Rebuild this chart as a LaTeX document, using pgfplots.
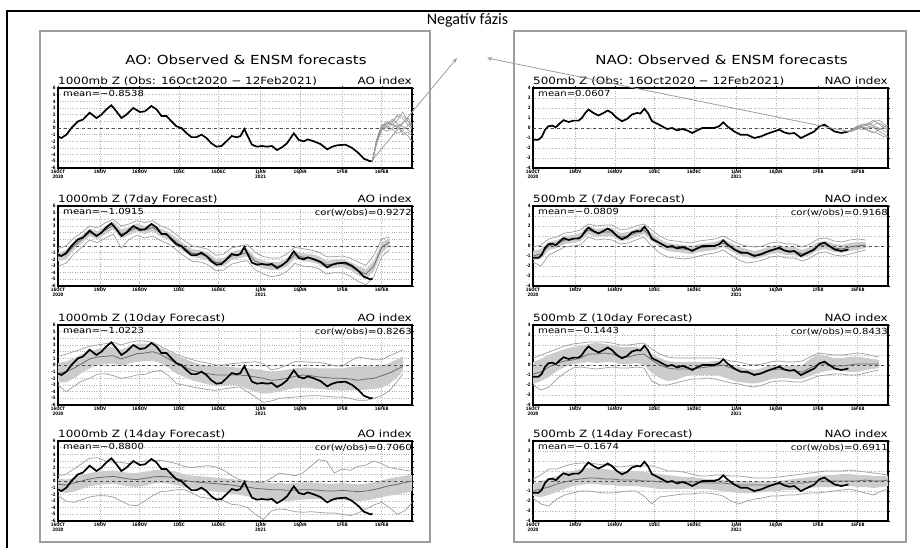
\documentclass[border=0pt]{standalone}
\usepackage{fontspec}
\setmainfont{DejaVu Sans}
\newfontfamily\gradsfont[FakeStretch=1.2]{DejaVu Sans}
\newfontfamily\tickfont[FakeStretch=0.85]{DejaVu Sans}
\newfontfamily\calibri{Carlito}
\usepackage{pgfplots}
\pgfplotsset{compat=1.18}
\usepackage{pgfplotstable}
\usetikzlibrary{arrows.meta}

\definecolor{bandgray}{gray}{0.80}
\definecolor{outergray}{gray}{0.62}
\definecolor{meangray}{gray}{0.42}
\definecolor{gridgray}{gray}{0.70}
\definecolor{framegray}{gray}{0.62}
\definecolor{arrowgray}{gray}{0.62}

\newcommand{\ticklab}{\tickfont\bfseries\fontsize{4.6}{5}\selectfont}
\newcommand{\subfont}{\gradsfont\fontsize{10}{10}\selectfont}
\newcommand{\titlefont}{\gradsfont\fontsize{12.5}{12.5}\selectfont}
\newcommand{\meanfont}{\gradsfont\fontsize{8.4}{8.4}\selectfont}

\pgfplotsset{
  grads/.style={
    scale only axis, width=354pt, height=80pt,
    xmin=0, xmax=134.5,
    axis line style={line width=1.4pt},
    xtick={0,16,31,46,61,77,92,108,123},
    xticklabels={{16OCT\\2020},1NOV,16NOV,1DEC,16DEC,{1JAN\\2021},16JAN,1FEB,16FEB},
    xticklabel style={align=center, font=\ticklab, inner sep=0.8pt},
    yticklabel style={font=\ticklab, inner sep=0.6pt},
    /pgf/number format/assume math mode=true,
    tick align=outside, major tick length=1.5pt, tick style={black, line width=0.4pt},
    xmajorgrids, ymajorgrids,
    major grid style={gridgray, dotted, line width=0.5pt},
    clip=false,
  },
  aostyle/.style={grads, ymin=-6, ymax=6, ytick={-6,...,6}},
  naostyle/.style={grads, ymin=-4, ymax=4, ytick={-4,...,4}},
}

\newcommand{\zeroline}{\draw[black!70, dashed, line width=0.8pt] (axis cs:0,0) -- (axis cs:134.5,0);}
\newcommand{\subt}[2]{%
  \node[anchor=base west, inner sep=0, font=\subfont] at ([yshift=3.5pt]rel axis cs:0,1) {#1};
  \node[anchor=base east, inner sep=0, font=\subfont] at ([yshift=3.5pt]rel axis cs:1,1) {#2};}
\newcommand{\meantxt}[1]{\node[anchor=north west, inner sep=0, font=\meanfont] at ([xshift=5pt,yshift=-2.5pt]rel axis cs:0,1) {#1};}
\newcommand{\cortxt}[1]{\node[anchor=north east, inner sep=0, font=\meanfont] at ([xshift=0pt,yshift=-2.5pt]rel axis cs:1,1) {#1};}
\newcommand{\fcband}[1]{%
  \addplot[draw=none, stack plots=y, forget plot] table[x=d,y=lo]{#1};
  \addplot[draw=none, fill=bandgray, stack plots=y, forget plot] table[x=d,y expr=\thisrow{hi}-\thisrow{lo}]{#1} \closedcycle;
  \zeroline
  \addplot[outergray, line width=0.7pt] table[x=d,y=mn]{#1};
  \addplot[outergray, line width=0.7pt] table[x=d,y=mx]{#1};
  \addplot[meangray, line width=0.8pt] table[x=d,y=m]{#1};
}

% ---------------- observed ----------------
\pgfplotstableread{
d v
0 -1.27
1.3 -1.5
3.2 -1.0
5.1 0.0
7.6 1.0
9.5 1.27
12.0 2.3
14.6 1.5
16.5 2.0
18.4 2.8
20.3 3.4
22.2 2.5
24.1 1.5
26.0 2.0
28.6 3.0
31.1 2.4
33.0 2.5
35.5 3.3
37.4 2.8
39.3 1.8
41.2 1.8
43.1 1.0
45.0 0.25
46.9 0.0
48.8 -0.76
50.7 -1.37
52.6 -1.37
54.5 -1.0
56.4 -1.5
58.3 -2.3
60.2 -2.8
62.1 -2.7
64 -2.0
66 -1.2
68 -1.4
69.3 -1.2
70.8 -0.15
71.8 -1.0
73.7 -2.5
75.6 -2.8
77.5 -2.7
79.4 -2.8
81.3 -2.7
83.2 -3.3
85.1 -2.9
87 -2.3
89.6 -0.8
91.5 -1.8
93.4 -2.0
94.9 -1.7
97.2 -2.0
99.7 -2.4
102.3 -3.2
104.2 -2.8
106 -2.6
109.2 -2.5
111.8 -3.0
114.3 -3.8
116.2 -4.6
118.7 -5.0
119.5 -4.9
}\aoobs

\pgfplotstableread{
d v
0 -1.18
2 -1.18
3.3 -0.9
4.6 -0.17
5.8 0.17
7.4 0.24
8.6 0.07
10.3 0.5
11.6 0.78
13.5 0.6
15.4 0.74
17.3 0.74
18.5 1.0
19.8 1.5
21 1.85
22.9 1.5
24.8 1.25
26.7 1.5
28.3 1.75
29.9 1.5
31.8 1.0
33.7 0.68
35.6 0.9
37.5 1.35
39.4 1.5
40.7 1.45
42.2 1.93
43.5 1.5
45.1 0.68
47 0.44
48.9 0.17
50.8 -0.1
52.7 0.0
54.6 -0.24
56.5 -0.1
58.4 -0.24
60.3 -0.5
62.2 -0.24
64.1 0.0
66 0.0
68.6 0.0
70.5 0.17
72.1 0.57
73.6 0.17
76.2 -0.34
78.7 -0.68
81.2 -0.68
83.8 -1.0
86.3 -0.85
88.8 -0.57
91.4 -0.34
93.3 -0.17
95.2 -0.44
97.1 -0.57
99 -0.5
101.5 -1.0
104 -0.68
106.6 -0.34
108.5 0.17
110.4 0.34
112.3 0.0
114.2 -0.34
116.8 -0.5
119.5 -0.35
}\naoobs

% ---------------- ensemble after obs (top panels) ----------------
\pgfplotstableread{
d c1 c2 c3 c4 c5 c6 c7 c8
119.5 -4.9 -4.9 -4.9 -4.9 -4.9 -4.9 -4.9 -4.9
121 -2.0 -1.8 -2.2 -2.5 -2.0 -2.3 -1.9 -2.1
123 0.2 0.5 0.0 -0.3 0.3 -0.1 0.4 0.1
125 0.8 0.2 0.5 0.3 1.0 -0.5 0.6 0.0
127 0.4 0.6 1.0 -0.2 0.5 0.0 1.3 0.8
129 1.2 0.0 1.8 -0.8 0.2 0.5 0.7 2.0
131 2.4 -0.5 1.4 -0.3 0.8 -1.0 0.2 1.8
133 1.0 -1.2 0.5 0.4 1.5 -0.6 -0.3 1.0
134.5 0.3 -2.0 -0.2 0.8 0.5 -1.2 -0.8 0.0
}\aofc

\pgfplotstableread{
d c1 c2 c3 c4 c5 c6 c7 c8
119.5 -0.35 -0.35 -0.35 -0.35 -0.35 -0.35 -0.35 -0.35
121 -0.2 -0.3 -0.1 -0.2 -0.3 -0.2 -0.1 -0.25
123 0.0 -0.1 0.1 0.2 0.0 0.1 0.2 -0.05
125 0.2 0.1 0.3 0.0 -0.2 0.2 0.4 0.1
127 0.3 -0.2 0.5 0.1 0.0 0.4 0.2 -0.3
129 0.6 -0.4 0.2 0.3 0.1 0.8 0.0 -0.5
131 0.8 -0.6 0.0 0.5 -0.2 0.4 -0.3 -0.2
133 0.4 -0.9 -0.3 0.2 0.1 0.0 -0.6 0.1
134.5 0.2 -0.8 -0.5 0.0 0.3 -0.2 -0.9 0.3
}\naofc

% ---------------- forecast panels: d mean lo hi min max ----------------
\pgfplotstableread{
d m lo hi mn mx
0 -1.6 -2.3 -1.0 -3.0 -0.4
3 -1.3 -2.0 -0.6 -2.6 0.0
6 0.0 -0.6 0.6 -1.2 1.2
9 1.0 0.4 1.6 -0.2 2.0
12 2.0 1.5 2.6 0.9 3.0
15 1.6 1.0 2.2 0.5 2.7
18 2.4 1.8 3.0 1.2 3.5
21 3.1 2.5 3.7 1.8 4.0
24 1.8 1.1 2.5 -0.3 3.0
27 2.2 1.6 2.8 1.0 3.3
30 2.8 2.2 3.4 1.6 3.8
33 2.4 1.8 3.0 1.2 3.5
36 2.8 2.2 3.4 1.5 3.8
39 2.0 1.4 2.6 0.8 3.0
42 1.5 0.9 2.1 0.3 2.6
45 0.6 0.0 1.2 -0.6 1.7
48 -0.3 -0.9 0.3 -1.5 0.8
51 -1.1 -1.7 -0.5 -2.3 0.0
54 -1.2 -1.8 -0.6 -2.4 -0.2
57 -1.6 -2.2 -1.0 -2.8 -0.5
60 -2.5 -3.1 -1.9 -3.7 -1.4
63 -2.4 -3.0 -1.8 -3.6 -1.2
66 -1.5 -2.1 -0.9 -2.7 -0.3
69 -1.2 -1.8 -0.6 -2.4 0.0
72 -1.0 -1.6 -0.4 -2.2 0.2
75 -2.3 -2.9 -1.7 -3.6 -1.0
78 -2.8 -3.4 -2.2 -4.2 -1.6
81 -3.0 -3.6 -2.4 -4.6 -1.8
84 -3.0 -3.6 -2.4 -4.4 -1.8
87 -2.4 -3.0 -1.8 -3.8 -1.2
90 -1.3 -1.9 -0.7 -2.6 -0.2
93 -1.7 -2.3 -1.1 -3.0 -0.4
96 -1.8 -2.4 -1.2 -3.1 -0.6
99 -2.1 -2.7 -1.5 -3.4 -0.9
102 -2.8 -3.4 -2.2 -4.2 -1.6
105 -2.7 -3.3 -2.1 -4.0 -1.6
108 -2.6 -3.2 -2.0 -4.0 -1.5
111 -3.0 -3.6 -2.4 -4.5 -1.8
114 -3.7 -4.4 -3.0 -5.3 -2.4
117 -4.2 -4.9 -3.5 -5.8 -2.9
120 -3.0 -3.8 -2.2 -4.6 -1.4
123 -0.2 -1.0 0.6 -1.6 1.1
126 0.6 0.0 1.1 -0.5 1.3
}\aoA

\pgfplotstableread{
d m lo hi mn mx
0 -1.3 -2.6 0.3 -3.0 1.3
3 -1.0 -2.6 0.5 -4.0 1.6
6 -0.5 -2.0 1.0 -3.2 2.0
9 0.2 -1.2 1.6 -2.4 2.4
12 0.9 -0.5 2.0 -2.0 2.8
15 1.2 0.0 2.4 -1.4 3.0
18 1.3 0.1 2.6 -1.3 3.2
21 1.4 0.2 2.8 -1.6 3.4
24 0.9 -0.2 2.3 -2.0 3.0
27 1.3 0.2 2.8 -1.8 3.4
30 1.7 0.5 3.2 -1.5 3.6
33 1.8 0.6 3.2 -1.4 3.6
36 2.0 0.6 3.0 -1.0 3.4
39 1.6 0.3 2.6 -0.8 2.8
42 0.9 -0.4 2.0 -1.6 2.2
45 0.3 -1.3 1.5 -2.8 1.6
48 -0.3 -1.8 1.0 -3.0 1.2
51 -0.8 -2.3 0.5 -3.3 0.8
54 -1.1 -2.6 0.1 -3.5 0.5
57 -1.3 -2.9 -0.1 -3.7 0.3
60 -1.5 -3.2 -0.2 -3.8 0.0
63 -1.5 -3.1 -0.2 -3.6 0.0
66 -1.5 -3.0 -0.3 -3.4 0.2
69 -1.5 -3.2 -0.4 -3.3 0.3
72 -1.6 -3.6 -0.5 -4.0 0.4
75 -1.8 -4.0 -0.6 -4.8 0.5
78 -2.0 -4.3 -0.8 -5.6 0.2
81 -2.3 -4.2 -1.0 -5.4 -0.7
84 -2.2 -4.0 -0.9 -5.0 -0.5
87 -2.0 -3.7 -0.7 -4.9 0.0
90 -1.7 -3.5 -0.5 -4.8 0.5
93 -1.5 -3.4 -0.4 -4.7 0.5
96 -1.6 -3.5 -0.4 -4.6 0.4
99 -1.8 -3.6 -0.5 -4.6 0.4
102 -1.9 -3.7 -0.5 -4.7 0.2
105 -2.0 -3.8 -0.5 -4.8 -0.1
108 -2.0 -3.8 -0.5 -4.8 -0.2
111 -2.1 -3.8 -0.3 -5.0 0.6
114 -2.3 -3.8 -0.2 -5.3 1.2
117 -2.1 -3.7 -0.2 -5.3 1.0
120 -2.0 -3.6 -0.2 -5.0 0.8
123 -1.6 -3.4 -0.1 -4.6 0.8
126 -1.2 -2.8 0.3 -3.8 1.4
129 -0.6 -1.8 0.9 -2.4 1.9
131 -0.2 -0.9 1.3 -1.3 2.3
}\aoB

\pgfplotstableread{
d m lo hi mn mx
0 -0.5 -1.6 0.4 -2.2 0.8
3 -0.6 -1.8 0.2 -3.0 1.0
6 -0.3 -1.6 0.5 -3.2 1.8
9 0.0 -1.2 0.9 -2.8 2.6
12 0.3 -0.8 1.2 -2.4 3.4
15 0.5 -0.6 1.4 -2.2 3.5
18 0.6 -0.5 1.5 -2.2 3.0
21 0.7 -0.4 1.6 -2.4 2.8
24 0.5 -0.6 1.4 -3.0 2.8
27 0.3 -0.8 1.2 -3.6 2.6
30 0.2 -0.9 1.2 -3.7 2.8
33 0.4 -0.7 1.4 -3.0 3.0
36 0.6 -0.4 1.6 -2.2 3.0
39 0.7 -0.3 1.7 -1.6 3.1
42 0.6 -0.4 1.6 -1.5 2.9
45 0.4 -0.6 1.4 -1.3 2.6
48 0.1 -0.9 1.0 -1.3 2.2
51 -0.1 -1.1 0.8 -1.8 2.0
54 -0.2 -1.3 0.7 -2.4 2.2
57 -0.3 -1.5 0.6 -2.6 2.3
60 -0.4 -1.6 0.5 -2.6 2.1
63 -0.5 -1.7 0.4 -3.0 1.6
66 -0.6 -1.9 0.3 -3.5 0.8
69 -0.8 -2.1 0.1 -3.6 0.2
72 -0.9 -2.3 0.0 -4.0 0.0
75 -1.1 -2.6 -0.1 -5.0 -0.2
78 -1.2 -2.8 -0.2 -5.8 -0.2
81 -1.3 -2.9 -0.3 -4.5 0.4
84 -1.3 -2.9 -0.3 -4.2 1.2
87 -1.4 -3.0 -0.4 -4.3 1.0
90 -1.4 -2.9 -0.3 -4.6 0.8
93 -1.3 -2.8 -0.2 -4.7 1.2
96 -1.3 -2.7 -0.2 -4.6 2.2
99 -1.4 -2.7 -0.3 -4.7 3.2
102 -1.5 -2.8 -0.4 -4.8 3.0
105 -1.5 -2.9 -0.4 -4.8 1.2
108 -1.4 -2.8 -0.3 -5.0 1.8
111 -1.5 -2.9 -0.4 -5.2 1.6
114 -1.6 -3.0 -0.5 -4.8 2.2
117 -1.5 -2.9 -0.4 -4.2 2.4
120 -1.3 -2.7 -0.2 -3.6 3.0
123 -1.0 -2.4 0.1 -3.2 2.6
126 -0.7 -2.2 0.4 -4.0 2.0
129 -0.5 -2.0 0.6 -5.0 1.8
132 -0.2 -1.8 0.8 -4.4 1.6
134.5 0.0 -1.5 0.9 -3.2 1.5
}\aoC

\pgfplotstableread{
d m lo hi mn mx
0 -1.0 -1.4 -0.5 -1.6 -0.1
3 -0.8 -1.3 -0.3 -2.0 0.1
6 0.0 -0.4 0.4 -0.9 0.7
9 0.2 -0.2 0.6 -0.5 0.9
12 0.6 0.2 1.0 -0.1 1.3
15 0.7 0.3 1.1 0.0 1.4
18 0.9 0.5 1.3 0.1 1.6
21 1.6 1.2 2.0 0.9 2.2
24 1.3 0.9 1.7 0.6 2.0
27 1.4 1.0 1.8 0.7 2.1
30 1.4 1.0 1.8 0.6 2.1
33 0.9 0.5 1.3 0.2 1.6
36 1.0 0.6 1.4 0.3 1.7
39 1.3 0.9 1.7 0.6 2.0
42 1.6 1.2 2.0 0.9 2.2
45 0.9 0.5 1.3 0.0 1.6
48 0.3 -0.1 0.7 -0.7 1.0
51 -0.1 -0.5 0.3 -1.1 0.6
54 -0.2 -0.6 0.2 -1.2 0.5
57 -0.3 -0.7 0.1 -1.3 0.4
60 -0.4 -0.8 0.0 -1.2 0.3
63 -0.2 -0.6 0.2 -1.0 0.5
66 -0.1 -0.5 0.3 -0.8 0.6
69 0.0 -0.4 0.4 -0.7 0.7
72 0.3 -0.1 0.7 -0.4 1.0
75 -0.1 -0.5 0.3 -0.9 0.6
78 -0.5 -0.9 -0.1 -1.4 0.2
81 -0.7 -1.1 -0.3 -1.7 0.0
84 -0.9 -1.3 -0.5 -1.6 -0.1
87 -0.7 -1.1 -0.3 -1.4 0.0
90 -0.4 -0.8 0.0 -1.1 0.3
93 -0.3 -0.7 0.1 -1.0 0.4
96 -0.5 -0.9 -0.1 -1.2 0.2
99 -0.5 -0.9 -0.1 -1.2 0.2
102 -0.8 -1.2 -0.4 -1.5 -0.1
105 -0.5 -0.9 -0.1 -1.2 0.2
108 0.0 -0.4 0.4 -0.7 0.7
111 0.1 -0.3 0.5 -0.6 0.8
114 -0.2 -0.6 0.2 -0.9 0.5
117 -0.3 -0.7 0.1 -1.0 0.4
120 -0.1 -0.5 0.3 -0.8 0.6
123 0.0 -0.4 0.4 -0.6 0.7
126 0.1 -0.2 0.4 -0.4 0.6
}\naoA

\pgfplotstableread{
d m lo hi mn mx
0 -0.9 -1.9 0.3 -2.0 0.7
3 -0.7 -1.6 0.6 -2.5 1.0
6 -0.2 -1.2 1.0 -2.2 1.3
9 0.2 -0.6 1.3 -1.4 1.6
12 0.4 -0.2 1.6 -0.8 1.9
15 0.5 0.1 1.8 -0.3 2.1
18 0.7 0.2 1.9 -0.2 2.2
21 1.1 0.3 2.1 -0.3 2.3
24 1.1 0.2 2.2 -0.4 2.3
27 1.2 0.3 2.1 -0.3 2.3
30 1.1 0.3 2.0 -0.2 2.2
33 0.8 0.1 1.8 -0.3 2.0
36 0.8 0.1 1.8 -0.3 2.0
39 1.0 0.2 1.8 -0.2 2.1
42 1.1 0.0 1.7 -0.3 2.2
45 0.5 -0.8 1.1 -1.6 1.6
48 0.0 -1.3 0.7 -2.0 1.1
51 -0.3 -1.6 0.4 -2.0 0.8
54 -0.4 -1.5 0.3 -1.8 0.7
57 -0.4 -1.2 0.3 -1.6 0.7
60 -0.4 -1.0 0.3 -1.4 0.7
63 -0.3 -1.0 0.3 -1.4 0.7
66 -0.2 -1.0 0.3 -1.3 0.7
69 -0.1 -1.0 0.4 -1.4 0.7
72 0.0 -1.2 0.3 -1.6 0.6
75 -0.3 -1.5 0.0 -1.8 0.4
78 -0.6 -1.7 -0.2 -1.9 0.3
81 -0.8 -1.8 -0.4 -2.1 0.1
84 -0.9 -1.85 -0.5 -2.2 0.0
87 -0.8 -1.7 -0.3 -2.0 0.1
90 -0.5 -1.4 0.0 -1.7 0.3
93 -0.4 -1.3 0.0 -1.6 0.4
96 -0.5 -1.3 -0.1 -1.6 0.3
99 -0.6 -1.4 -0.1 -1.7 0.3
102 -0.7 -1.4 0.0 -1.7 0.4
105 -0.3 -1.1 0.6 -1.4 0.8
108 0.1 -0.8 1.1 -1.1 1.2
111 0.1 -0.6 0.9 -1.0 1.1
114 -0.1 -0.5 0.7 -0.9 1.0
117 -0.1 -0.6 0.7 -0.9 1.0
120 0.0 -0.7 0.8 -1.0 1.1
123 0.1 -0.7 0.85 -1.0 1.2
126 0.1 -0.5 0.7 -0.8 1.1
129 0.1 -0.4 0.6 -0.6 0.9
131 0.1 -0.3 0.5 -0.5 0.8
}\naoB

\pgfplotstableread{
d m lo hi mn mx
0 -1.0 -1.5 -0.3 -1.7 0.2
3 -0.8 -1.6 0.0 -2.3 0.6
6 -0.6 -1.4 0.2 -2.5 1.2
9 -0.3 -1.1 0.5 -1.8 1.2
12 -0.1 -0.8 0.8 -1.4 1.5
15 0.1 -0.5 1.0 -1.2 1.7
18 0.2 -0.4 1.2 -1.0 1.8
21 0.3 -0.3 1.3 -1.0 1.8
24 0.3 -0.3 1.3 -1.1 1.7
27 0.2 -0.4 1.2 -1.2 1.6
30 0.2 -0.4 1.1 -1.2 1.5
33 0.1 -0.5 1.0 -1.1 1.4
36 0.1 -0.5 1.0 -1.0 1.5
39 0.1 -0.5 1.0 -1.0 1.6
42 0.0 -0.6 0.9 -1.5 1.5
45 0.0 -0.7 0.8 -2.3 1.5
48 -0.1 -0.8 0.7 -1.6 1.3
51 -0.1 -0.8 0.6 -1.5 1.0
54 -0.1 -0.8 0.5 -1.4 1.0
57 -0.1 -0.8 0.4 -1.3 0.9
60 -0.1 -0.8 0.4 -1.3 0.7
63 -0.1 -0.8 0.3 -1.2 0.5
66 -0.2 -0.8 0.2 -1.2 0.5
69 -0.2 -0.9 0.2 -1.3 0.6
72 -0.2 -1.0 0.1 -1.5 0.6
75 -0.3 -1.1 0.0 -2.0 0.5
78 -0.4 -1.2 0.0 -2.3 0.5
81 -0.4 -1.2 -0.1 -2.0 0.4
84 -0.4 -1.2 -0.1 -1.8 0.3
87 -0.4 -1.1 -0.1 -1.7 0.3
90 -0.4 -1.0 0.0 -1.5 0.3
93 -0.3 -1.0 0.0 -1.5 0.4
96 -0.3 -0.9 0.1 -1.4 0.5
99 -0.2 -0.9 0.2 -1.4 0.6
102 -0.2 -0.8 0.3 -1.3 0.7
105 -0.1 -0.7 0.4 -1.2 0.8
108 0.0 -0.6 0.5 -1.2 0.9
111 0.0 -0.6 0.6 -1.1 1.0
114 0.0 -0.6 0.6 -1.0 1.0
117 0.0 -0.5 0.7 -0.9 1.0
120 0.0 -0.5 0.7 -0.8 1.1
123 0.0 -0.6 0.6 -1.0 1.0
126 0.1 -0.6 0.6 -1.2 0.9
129 0.0 -0.7 0.5 -1.4 0.8
132 0.0 -0.6 0.5 -1.0 0.7
134.5 0.1 -0.5 0.5 -0.8 0.6
}\naoC

\begin{document}
\begin{tikzpicture}[x=1pt,y=1pt]
\useasboundingbox (0,0) rectangle (920,547);
\fill[white] (0,0) rectangle (920,547);
% outer black border (top and left)
\draw[line width=2.6pt] (7,-2) -- (7,536) -- (922,536);
% panel frames
\draw[framegray, line width=1.2pt] (40,5) rectangle (430,516);
\draw[framegray, line width=1.2pt] (514,5) rectangle (906,516);
% titles
\node[font=\titlefont, inner sep=0] at (246,487) {AO: Observed \& ENSM forecasts};
\node[font=\titlefont, inner sep=0] at (721.5,487) {NAO: Observed \& ENSM forecasts};

% ================= AO =================
\begin{axis}[aostyle, at={(58pt,459pt)}, anchor=north west]
  \zeroline
  \pgfplotsinvokeforeach{1,...,8}{\addplot[meangray!70, line width=0.6pt] table[x=d,y=c#1]{\aofc};}
  \addplot[black, line width=1.7pt] table[x=d,y=v]{\aoobs};
  \coordinate (aoend) at (axis cs:119,-5.0);
  \subt{1000mb Z (Obs: 16Oct2020 − 12Feb2021)}{AO index}
  \meantxt{mean=−0.8538}
\end{axis}

\begin{axis}[aostyle, at={(58pt,341pt)}, anchor=north west]
  \fcband{\aoA}
  \addplot[black, line width=1.7pt] table[x=d,y=v]{\aoobs};
  \subt{1000mb Z (7day Forecast)}{AO index}
  \meantxt{mean=−1.0915}
  \cortxt{cor(w/obs)=0.9272}
\end{axis}

\begin{axis}[aostyle, at={(58pt,222pt)}, anchor=north west]
  \fcband{\aoB}
  \addplot[black, line width=1.7pt] table[x=d,y=v]{\aoobs};
  \subt{1000mb Z (10day Forecast)}{AO index}
  \meantxt{mean=−1.0223}
  \cortxt{cor(w/obs)=0.8263}
\end{axis}

\begin{axis}[aostyle, at={(58pt,106pt)}, anchor=north west]
  \fcband{\aoC}
  \addplot[black, line width=1.7pt] table[x=d,y=v]{\aoobs};
  \subt{1000mb Z (14day Forecast)}{AO index}
  \meantxt{mean=−0.8800}
  \cortxt{cor(w/obs)=0.7060}
\end{axis}

% ================= NAO =================
\begin{axis}[naostyle, width=355pt, at={(533pt,459pt)}, anchor=north west]
  \zeroline
  \pgfplotsinvokeforeach{1,...,8}{\addplot[meangray!70, line width=0.6pt] table[x=d,y=c#1]{\naofc};}
  \addplot[black, line width=1.7pt] table[x=d,y=v]{\naoobs};
  \coordinate (naoend) at (axis cs:119.5,-0.35);
  \subt{500mb Z (Obs: 16Oct2020 − 12Feb2021)}{NAO index}
  \meantxt{mean=0.0607}
\end{axis}

\begin{axis}[naostyle, width=355pt, at={(533pt,341pt)}, anchor=north west]
  \fcband{\naoA}
  \addplot[black, line width=1.7pt] table[x=d,y=v]{\naoobs};
  \subt{500mb Z (7day Forecast)}{NAO index}
  \meantxt{mean=−0.0809}
  \cortxt{cor(w/obs)=0.9168}
\end{axis}

\begin{axis}[naostyle, width=355pt, at={(533pt,222pt)}, anchor=north west]
  \fcband{\naoB}
  \addplot[black, line width=1.7pt] table[x=d,y=v]{\naoobs};
  \subt{500mb Z (10day Forecast)}{NAO index}
  \meantxt{mean=−0.1443}
  \cortxt{cor(w/obs)=0.8433}
\end{axis}

\begin{axis}[naostyle, width=355pt, at={(533pt,106pt)}, anchor=north west]
  \fcband{\naoC}
  \addplot[black, line width=1.7pt] table[x=d,y=v]{\naoobs};
  \subt{500mb Z (14day Forecast)}{NAO index}
  \meantxt{mean=−0.1674}
  \cortxt{cor(w/obs)=0.6911}
\end{axis}

% annotation
\node[font=\calibri\fontsize{16}{16}\selectfont, inner sep=0] at (467.5,527) {Negatív fázis};
\draw[arrowgray, line width=0.8pt, -{Stealth[length=5pt,width=4pt]}] (aoend) -- (457,489);
\draw[arrowgray, line width=0.8pt, -{Stealth[length=5pt,width=4pt]}] (naoend) -- (487,489);
\end{tikzpicture}
\end{document}
